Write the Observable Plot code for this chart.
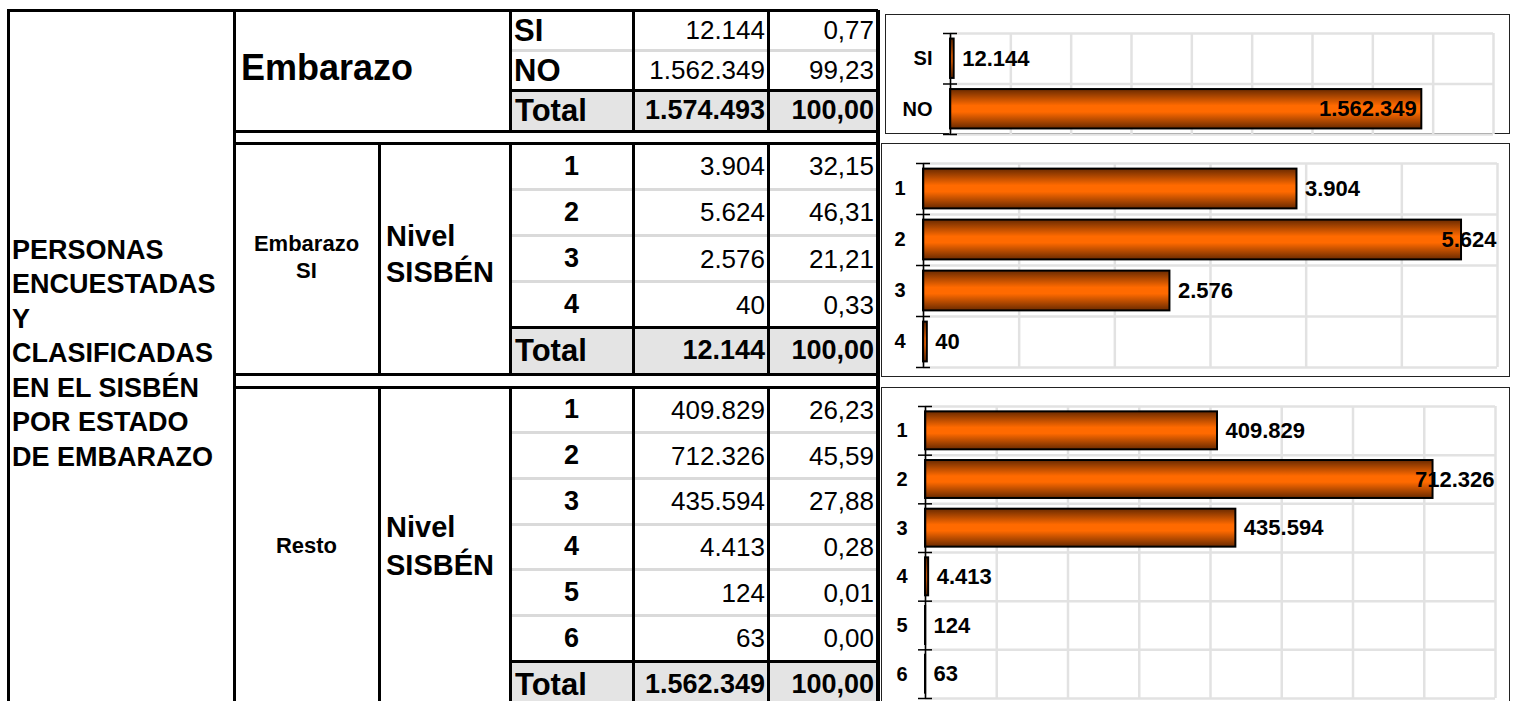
<!DOCTYPE html>
<html><head><meta charset="utf-8">
<script src="https://cdn.jsdelivr.net/npm/d3@7"></script>
<script src="https://cdn.jsdelivr.net/npm/@observablehq/plot@0.6"></script>
<style>
html,body{margin:0;padding:0;background:#fff;overflow:hidden}
#root{position:relative;width:1515px;height:701px;overflow:hidden;font-family:"Liberation Sans",Arial,sans-serif;color:#000;background:#fff}
.ln{position:absolute;background:#000}
.tx{position:absolute;white-space:nowrap}
.box{position:absolute;border:1.5px solid #222;box-sizing:border-box;background:#fff}
</style></head><body>
<svg width="0" height="0" style="position:absolute"><defs>
<linearGradient id="naranja" x1="0" y1="0" x2="0" y2="1">
<stop offset="0" stop-color="#6a2a00"/><stop offset="0.42" stop-color="#ff6a00"/><stop offset="0.58" stop-color="#ff6a00"/><stop offset="1" stop-color="#6a2a00"/>
</linearGradient></defs></svg>
<div id="root"></div>
<script>
// ---------- DATA ----------
const tituloFilas = ["PERSONAS", "ENCUESTADAS", "Y", "CLASIFICADAS", "EN EL SISBÉN", "POR ESTADO", "DE EMBARAZO"];

const embarazoCats = ["SI", "NO"];
const embarazoVals = [12144, 1562349];
const embarazoPct = ["0,77", "99,23"];
const embarazoTotalVal = 1574493;
const embarazoTotalPct = "100,00";

const nivelesSI = ["1", "2", "3", "4"];
const valoresSI = [3904, 5624, 2576, 40];
const pctSI = ["32,15", "46,31", "21,21", "0,33"];
const totalSIVal = 12144;
const totalSIPct = "100,00";

const nivelesResto = ["1", "2", "3", "4", "5", "6"];
const valoresResto = [409829, 712326, 435594, 4413, 124, 63];
const pctResto = ["26,23", "45,59", "27,88", "0,28", "0,01", "0,00"];
const totalRestoVal = 1562349;
const totalRestoPct = "100,00";

const ejeEmbarazo = {max: 1800000, step: 200000};
const ejeSI = {max: 6000, step: 1000};
const ejeResto = {max: 800000, step: 100000};

// ---------- HELPERS ----------
const fmt = d3.formatLocale({decimal: ",", thousands: ".", grouping: [3], currency: ["", ""]}).format(",d");
const root = document.getElementById("root");
function el(cls, css, html) {
  const d = document.createElement("div");
  d.className = cls; Object.assign(d.style, css);
  if (html != null) d.innerHTML = html;
  root.appendChild(d); return d;
}
const px = v => v + "px";
function hl(x1, x2, y, t = 3, c = "#000") { el("ln", {left: px(x1), top: px(y - t / 2), width: px(x2 - x1), height: px(t), background: c}); }
function vl(x, y1, y2, t = 3, c = "#000") { el("ln", {left: px(x - t / 2), top: px(y1), width: px(t), height: px(y2 - y1), background: c}); }
function fill(x1, x2, y1, y2, c) { el("ln", {left: px(x1), top: px(y1), width: px(x2 - x1), height: px(y2 - y1), background: c}); }
function cell(x1, x2, yc, html, {align = "left", size = 26, weight = "normal", pad = 4, lh = "1", h = 300} = {}) {
  el("tx", {
    left: px(x1), width: px(x2 - x1), top: px(yc - h / 2), height: px(h),
    display: "flex", alignItems: "center",
    justifyContent: align === "left" ? "flex-start" : align === "right" ? "flex-end" : "center",
    textAlign: align, fontSize: px(size), fontWeight: weight, boxSizing: "border-box",
    paddingLeft: px(align === "left" ? pad : 0), paddingRight: px(align === "right" ? pad : 0),
    lineHeight: lh
  }, html);
}

// ---------- TABLE ----------
const X = {L: 8, A: 234, B: 379, C: 510, D: 633, E: 768, R: 878};
const BOTTOM = 720;

function section({top, rowH, labels, values, pcts, totalVal, totalPct, labelStyle}) {
  const n = labels.length;
  const totalTop = top + rowH * n;
  const bottom = totalTop + rowH;
  fill(X.C, X.R, totalTop, bottom, "#e4e4e4");
  for (let i = 1; i < n; i++) hl(X.C, X.R, top + rowH * i, 3, "#dadada");
  hl(X.C, X.R, totalTop, 3);
  [X.C, X.D, X.E].forEach(x => vl(x, top, Math.min(bottom, BOTTOM)));
  labels.forEach((lab, i) => {
    const yc = top + rowH * (i + 0.5);
    if (labelStyle === "left") cell(X.C, X.D, yc, lab, {size: 31, weight: "bold", pad: 4, h: 40});
    else cell(X.C, X.D, yc, lab, {align: "center", size: 27, weight: "bold", h: 40});
    cell(X.D, X.E, yc, fmt(values[i]), {align: "right", size: 26, pad: 3, h: 40});
    cell(X.E, X.R, yc, pcts[i], {align: "right", size: 26, pad: 4, h: 40});
  });
  const yt = totalTop + rowH / 2;
  cell(X.C, X.D, yt, "Total", {size: 31, weight: "bold", pad: 5, h: 36});
  cell(X.D, X.E, yt, fmt(totalVal), {align: "right", size: 27, weight: "bold", pad: 3, h: 36});
  cell(X.E, X.R, yt, totalPct, {align: "right", size: 27, weight: "bold", pad: 4, h: 36});
}

section({top: 10, rowH: 40.3, labels: embarazoCats, values: embarazoVals, pcts: embarazoPct, totalVal: embarazoTotalVal, totalPct: embarazoTotalPct, labelStyle: "left"});
section({top: 143, rowH: 46.2, labels: nivelesSI, values: valoresSI, pcts: pctSI, totalVal: totalSIVal, totalPct: totalSIPct, labelStyle: "center"});
section({top: 387, rowH: 45.7, labels: nivelesResto, values: valoresResto, pcts: pctResto, totalVal: totalRestoVal, totalPct: totalRestoPct, labelStyle: "center"});

// frame
hl(X.L - 1.5, X.R, 10);
vl(X.L, 10, BOTTOM);
vl(X.A, 10, BOTTOM);
vl(X.R, 10, BOTTOM, 4);
[131, 143, 374, 387].forEach(y => hl(X.A, X.R, y));
vl(X.B, 143, 374);
vl(X.B, 387, BOTTOM);

// row headers
cell(X.L, X.A, 353.5, tituloFilas.join("<br>"), {size: 27, weight: "bold", pad: 4, lh: "34.5px"});
cell(X.A, X.C, 68, "Embarazo", {size: 36, weight: "bold", pad: 7, h: 60});
cell(X.A, X.B, 256.5, "Embarazo<br>SI", {align: "center", size: 22, weight: "bold", lh: "27px"});
cell(X.B, X.C, 254, "Nivel<br>SISBÉN", {size: 29, weight: "bold", pad: 7, lh: "36px"});
cell(X.A, X.B, 546, "Resto", {align: "center", size: 22, weight: "bold", h: 40});
cell(X.B, X.C, 546, "Nivel<br>SISBÉN", {size: 29, weight: "bold", pad: 7, lh: "38px"});

// ---------- CHARTS ----------
function barChart({cats, vals, eje, box, m, labelMode}) {
  el("box", {left: px(box.left), top: px(box.top), width: px(box.width), height: px(box.height)});
  const n = cats.length;
  const data = cats.map((c, i) => ({cat: c, value: vals[i], i}));
  const bounds = d3.range(n + 1);
  const xticks = d3.range(0, eje.max + eje.step / 2, eje.step);
  const pad = 0.11;
  const big = d => d.value / eje.max > 0.85;
  const marks = [
    Plot.ruleX(xticks, {stroke: "#e2e2e2", strokeWidth: 2.5}),
    Plot.ruleY(bounds, {stroke: "#e2e2e2", strokeWidth: 2.5}),
    Plot.rect(data, {x1: 0, x2: "value", y1: d => d.i + pad, y2: d => d.i + 1 - pad, fill: "url(#naranja)", stroke: "#000", strokeWidth: 2}),
    Plot.ruleX([0], {stroke: "#000", strokeWidth: 1.5}),
    Plot.ruleY(bounds, {x1: 0, x2: 0, insetLeft: -7, insetRight: -7, stroke: "#000", strokeWidth: 1.5}),
    Plot.text(data, {x: 0, y: d => d.i + 0.5, text: "cat", textAnchor: "end", dx: -18, fontSize: 20, fontWeight: "bold", fill: "#000"}),
    Plot.text(data.filter(d => !big(d)), {x: "value", y: d => d.i + 0.5, text: d => fmt(d.value), textAnchor: "start", dx: 8, fontSize: 22, fontWeight: "bold", fill: "#000"}),
    labelMode === "inside"
      ? Plot.text(data.filter(big), {x: "value", y: d => d.i + 0.5, text: d => fmt(d.value), textAnchor: "end", dx: -5, fontSize: 22, fontWeight: "bold", fill: "#000"})
      : Plot.text(data.filter(big), {x: () => eje.max, y: d => d.i + 0.5, text: d => fmt(d.value), textAnchor: "end", dx: -1, fontSize: 22, fontWeight: "bold", fill: "#000"})
  ];
  const svg = Plot.plot({
    width: box.width, height: box.height,
    marginLeft: m.l, marginRight: m.r, marginTop: m.t, marginBottom: m.b,
    x: {domain: [0, eje.max], axis: null},
    y: {domain: [0, n], reverse: true, axis: null},
    style: {fontFamily: "'Liberation Sans', Arial, sans-serif", background: "none", overflow: "visible"},
    marks
  });
  Object.assign(svg.style, {position: "absolute", left: px(box.left), top: px(box.top)});
  root.appendChild(svg);
}

barChart({cats: embarazoCats, vals: embarazoVals, eje: ejeEmbarazo,
  box: {left: 885, top: 14, width: 625, height: 120}, m: {l: 65, r: 17, t: 19, b: 0}, labelMode: "inside"});
barChart({cats: nivelesSI, vals: valoresSI, eje: ejeSI,
  box: {left: 881, top: 143, width: 629, height: 234}, m: {l: 42, r: 13, t: 20, b: 10}, labelMode: "clamp"});
barChart({cats: nivelesResto, vals: valoresResto, eje: ejeResto,
  box: {left: 881, top: 387, width: 629, height: 340}, m: {l: 44, r: 15, t: 19, b: 29}, labelMode: "clamp"});
</script></body></html>
